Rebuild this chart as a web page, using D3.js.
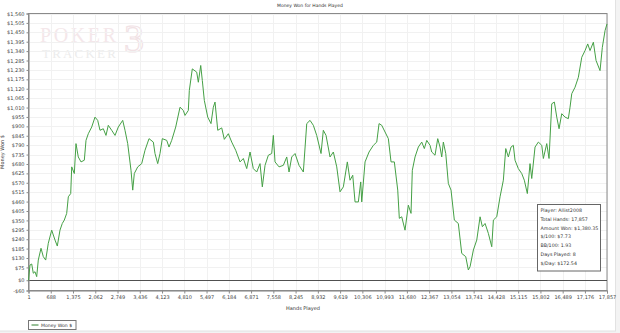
<!DOCTYPE html>
<html>
<head>
<meta charset="utf-8">
<script src="https://cdn.jsdelivr.net/npm/d3@7"></script>
<style>
	body { margin: 0; background: #fff; }
	svg text { font-family: "DejaVu Sans", sans-serif; }
</style>
</head>
<body>
<div id="chart-area"></div>
<script>
// cumulative winnings
const hands = [1, 47, 100, 149, 202, 254, 303, 387, 458, 532, 612, 717, 819, 890, 973, 1044, 1106, 1180, 1230, 1304,
	1335, 1415, 1467, 1538, 1622, 1724, 1776, 1847, 1952, 2054, 2137, 2208, 2310, 2393, 2464, 2569, 2671, 2773, 2909, 2980,
	3063, 3165, 3218, 3267, 3372, 3495, 3597, 3721, 3854, 3906, 3989, 4060, 4131, 4267, 4338, 4421, 4545, 4678, 4780, 4832,
	4934, 4965, 5057, 5193, 5243, 5317, 5366, 5428, 5533, 5634, 5706, 5758, 5842, 5965, 6045, 6169, 6274, 6397, 6530, 6632,
	6737, 6839, 6940, 7045, 7147, 7218, 7302, 7404, 7508, 7558, 7610, 7734, 7867, 7972, 8043, 8126, 8228, 8351, 8484, 8589,
	8691, 8793, 8897, 9030, 9101, 9185, 9308, 9410, 9515, 9617, 9719, 9842, 9925, 10009, 10080, 10182, 10256, 10287, 10389, 10512,
	10645, 10750, 10821, 10904, 11006, 11108, 11191, 11293, 11398, 11447, 11521, 11623, 11725, 11808, 11848, 11932, 12034, 12139, 12219, 12293,
	12395, 12447, 12549, 12632, 12703, 12756, 12806, 12880, 12960, 13043, 13145, 13268, 13373, 13497, 13577, 13630, 13733, 13837, 13939, 14010,
	14093, 14195, 14300, 14350, 14454, 14556, 14658, 14732, 14812, 14895, 14966, 15018, 15120, 15225, 15305, 15398, 15481, 15534, 15636, 15738,
	15843, 15893, 15997, 16068, 16152, 16232, 16306, 16377, 16460, 16562, 16664, 16716, 16769, 16871, 16973, 17078, 17179, 17262, 17333, 17436,
	17519, 17642, 17713, 17797, 17857];
const won = [0, 89, 95, 41, 50, 21, 118, 187, 138, 118, 216, 293, 235, 200, 293, 332, 352, 391, 488, 507,
	663, 624, 799, 721, 692, 702, 818, 857, 896, 954, 935, 877, 886, 847, 906, 877, 847, 896, 935, 877,
	799, 643, 527, 624, 663, 682, 760, 828, 808, 741, 682, 741, 828, 818, 779, 818, 896, 1012, 993, 964,
	993, 1110, 1236, 1217, 1158, 1256, 1168, 1052, 954, 916, 1012, 1042, 877, 891, 824, 857, 808, 760, 692, 712,
	653, 750, 653, 633, 682, 546, 672, 731, 741, 847, 692, 663, 672, 721, 633, 721, 741, 672, 633, 916,
	935, 906, 847, 741, 877, 847, 721, 750, 663, 517, 546, 692, 585, 614, 458, 458, 575, 458, 692, 750,
	789, 808, 916, 906, 867, 828, 692, 692, 527, 362, 371, 293, 439, 391, 643, 721, 779, 808, 770, 818,
	789, 750, 731, 828, 779, 721, 808, 741, 566, 527, 352, 332, 157, 138, 60, 79, 177, 235, 371, 313,
	332, 274, 196, 352, 371, 488, 585, 770, 721, 779, 789, 702, 653, 624, 585, 507, 682, 595, 779, 808,
	789, 712, 799, 712, 1032, 1042, 954, 886, 974, 954, 945, 1012, 1091, 1129, 1187, 1304, 1343, 1382, 1343, 1392,
	1285, 1226, 1362, 1460, 1499];

const xTicks = [1, 688, 1375, 2062, 2749, 3436, 4123, 4810, 5497, 6184, 6871, 7558, 8245, 8932, 9619,
	10306, 10993, 11680, 12367, 13054, 13741, 14428, 15115, 15802, 16489, 17176, 17857];
const yTicks = [-60, 0, 75, 130, 185, 240, 295, 350, 405, 460, 515, 570, 625, 680, 735, 790, 845, 900, 955,
	1010, 1065, 1120, 1175, 1230, 1285, 1340, 1395, 1450, 1505, 1560];
const statLines = ["Player: Allist2008", "Total Hands: 17,857", "Amount Won: $1,380.35", "$/100: $7.73",
	"BB/100: 1.93", "Days Played: 8", "$/Day: $172.54"];

const svgWidth = 620, svgHeight = 333;
const plot = {left: 28.5, right: 607, top: 13.5, bottom: 290.5};

const svg = d3.select("#chart-area").append("svg")
	.attr("width", svgWidth)
	.attr("height", svgHeight);

// outer frame
svg.append("rect")
	.attr("x", 0).attr("y", 0)
	.attr("width", svgWidth).attr("height", svgHeight)
	.attr("fill", "#f3f3f3");
svg.append("rect")
	.attr("x", -1).attr("y", -1)
	.attr("width", 616.5).attr("height", 332)
	.attr("fill", "#fff")
	.attr("stroke", "#e2e2e2");

const x = d3.scaleLinear().domain([1, 17857]).range([plot.left, plot.right]);
const y = d3.scaleLinear().domain([-60, 1560]).range([plot.bottom, plot.top]);

// watermark
const wm = svg.append("g");
wm.append("text")
	.attr("x", 40).attr("y", 41.5)
	.style("font-family", "'Liberation Serif', 'DejaVu Serif', serif")
	.attr("font-size", "20px")
	.attr("letter-spacing", "2.6px")
	.attr("fill", "#f4e7ea")
	.text("POKER");
wm.append("text")
	.attr("x", 42).attr("y", 58)
	.style("font-family", "'Liberation Serif', 'DejaVu Serif', serif")
	.attr("font-size", "13px")
	.attr("letter-spacing", "2.2px")
	.attr("fill", "#ececec")
	.text("TRACKER");
wm.append("text")
	.attr("x", 124).attr("y", 52)
	.style("font-family", "'Liberation Serif', 'DejaVu Serif', serif")
	.attr("font-size", "40px")
	.attr("fill", "none")
	.attr("stroke", "#f1e2e5")
	.attr("stroke-width", 1.2)
	.text("3");

// grid
svg.append("g").selectAll("line").data(xTicks).enter().append("line")
	.attr("x1", d => Math.round(x(d)) + 0.5).attr("x2", d => Math.round(x(d)) + 0.5)
	.attr("y1", plot.top).attr("y2", plot.bottom)
	.attr("stroke", "#f1f1f1");
svg.append("g").selectAll("line").data(yTicks).enter().append("line")
	.attr("x1", plot.left).attr("x2", plot.right)
	.attr("y1", d => Math.round(y(d)) + 0.5).attr("y2", d => Math.round(y(d)) + 0.5)
	.attr("stroke", "#f1f1f1");

// plot border
svg.append("rect")
	.attr("x", plot.left).attr("y", plot.top)
	.attr("width", plot.right - plot.left).attr("height", plot.bottom - plot.top)
	.attr("fill", "none")
	.attr("stroke", "#8a8a8a");

// zero line
svg.append("line")
	.attr("x1", plot.left).attr("x2", plot.right)
	.attr("y1", Math.round(y(0)) + 0.5).attr("y2", Math.round(y(0)) + 0.5)
	.attr("stroke", "#505050");

const xAxisCall = d3.axisBottom(x)
	.tickValues(xTicks)
	.tickSize(3)
	.tickPadding(2)
	.tickFormat(d3.format(","));
const xAxisGroup = svg.append("g")
	.attr("transform", `translate(0, ${plot.bottom})`)
	.call(xAxisCall);

const yAxisCall = d3.axisLeft(y)
	.tickValues(yTicks)
	.tickSize(2)
	.tickPadding(2)
	.tickFormat(d => (d < 0 ? "-$" : "$") + d3.format(",")(Math.abs(d)));
const yAxisGroup = svg.append("g")
	.attr("transform", `translate(${plot.left}, 0)`)
	.call(yAxisCall);

[xAxisGroup, yAxisGroup].forEach(g => {
	g.select(".domain").attr("stroke", "#8a8a8a");
	g.selectAll(".tick line").attr("stroke", "#8a8a8a");
	g.selectAll(".tick text")
		.attr("font-size", "5px")
		.attr("fill", "#444");
});

// the line
const line = d3.line()
	.x((d, i) => x(hands[i]))
	.y(d => y(d));
svg.append("path")
	.datum(won)
	.attr("d", line)
	.attr("fill", "none")
	.attr("stroke", "#45a045")
	.attr("stroke-width", 1)
	.attr("stroke-linejoin", "round");

// titles
svg.append("text")
	.attr("x", 310).attr("y", 7)
	.attr("text-anchor", "middle")
	.attr("font-size", "4.5px")
	.attr("fill", "#333")
	.text("Money Won for Hands Played");
svg.append("text")
	.attr("x", 303).attr("y", 310)
	.attr("text-anchor", "middle")
	.attr("font-size", "5px")
	.attr("fill", "#333")
	.text("Hands Played");
svg.append("text")
	.attr("transform", `translate(4, ${(plot.top + plot.bottom) / 2}) rotate(-90)`)
	.attr("text-anchor", "middle")
	.attr("font-size", "5px")
	.attr("fill", "#333")
	.text("Money Won $");

// stats box
const box = svg.append("g").attr("transform", "translate(537.5, 204.5)");
box.append("rect")
	.attr("width", 63).attr("height", 66.5)
	.attr("fill", "#fff")
	.attr("stroke", "#666");
box.selectAll("text").data(statLines).enter().append("text")
	.attr("x", 3)
	.attr("y", (d, i) => 7.5 + i * 8.8)
	.attr("font-size", "4.75px")
	.attr("fill", "#333")
	.text(d => d);

// legend
const legend = svg.append("g").attr("transform", "translate(28.5, 320.5)");
legend.append("rect")
	.attr("width", 47.5).attr("height", 9)
	.attr("fill", "#fff")
	.attr("stroke", "#777");
legend.append("line")
	.attr("x1", 3).attr("x2", 10)
	.attr("y1", 4.5).attr("y2", 4.5)
	.attr("stroke", "#2f7f2f");
legend.append("text")
	.attr("x", 12.5).attr("y", 6.3)
	.attr("font-size", "4.6px")
	.attr("fill", "#333")
	.text("Money Won $");
</script>
</body>
</html>
